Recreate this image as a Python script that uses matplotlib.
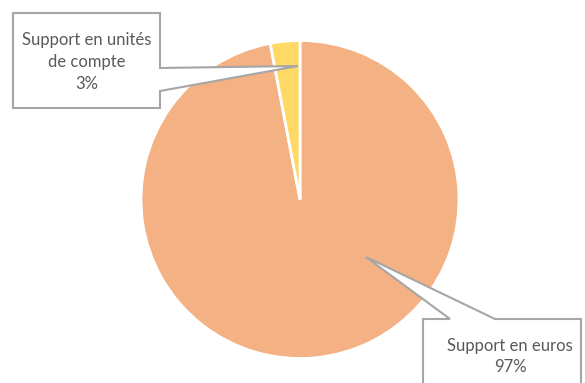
import matplotlib
matplotlib.use("Agg")
import matplotlib.pyplot as plt
from matplotlib.patches import Polygon

# Share of each support type
categories = ["Support en euros", "Support en unités de compte"]
shares = [97, 3]
colors = ["#F4B183", "#FFD966"]
label_lines = [["Support en euros", "97%"], ["Support en unités", "de compte", "3%"]]

W, H = 585, 383
fig = plt.figure(figsize=(W / 100, H / 100), dpi=100)
ax = fig.add_axes([0, 0, 1, 1])

cx, cy, r = 300, H - 199.5, 159
ax.pie(shares, colors=colors, startangle=90, counterclock=False,
       center=(cx, cy), radius=r,
       wedgeprops=dict(edgecolor="white", linewidth=2))

ax.set_xlim(0, W)
ax.set_ylim(0, H)
ax.set_aspect("equal")
ax.axis("off")

def yy(v):
    return H - v

border = "#A6A6A6"
text_color = "#595959"
font = dict(family=["Lato", "DejaVu Sans"], fontsize=12, color=text_color)

# Callout for the units-of-account slice
c1 = [(13, 13), (160, 13), (160, 68), (298, 66), (160, 91), (160, 108), (13, 108)]
ax.add_patch(Polygon([(x, yy(y)) for x, y in c1], closed=True,
                     facecolor="white", edgecolor=border, linewidth=1.5, zorder=3))
for i, line in enumerate(label_lines[1]):
    ax.text(87, yy(40 + 22 * i), line, ha="center", va="center", zorder=4, **font)

# Callout for the euro slice
c2 = [(423, 319), (450, 319), (366, 257), (495, 319), (581, 319), (581, 400), (423, 400)]
ax.add_patch(Polygon([(x, yy(y)) for x, y in c2], closed=True,
                     facecolor="white", edgecolor=border, linewidth=1.5, zorder=3))
for i, line in enumerate(label_lines[0]):
    ax.text(510, yy(346 + 21 * i), line, ha="center", va="center", zorder=4, **font)

fig.savefig("out.png", dpi=100)
